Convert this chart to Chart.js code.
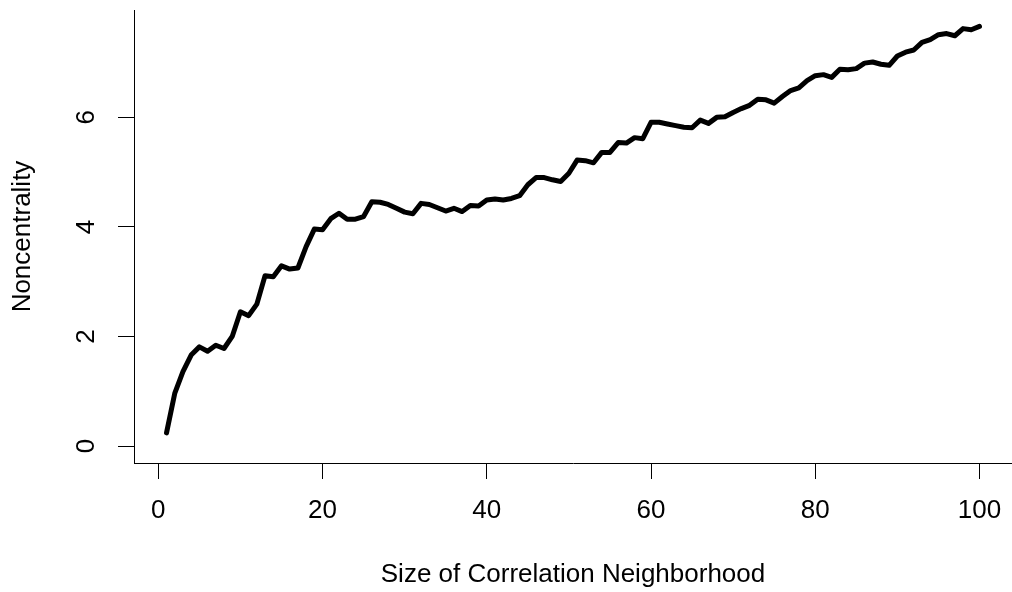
<!DOCTYPE html>
<html>
<head>
<meta charset="utf-8">
<script src="https://cdn.jsdelivr.net/npm/chart.js@4"></script>
<style>
  html, body { margin: 0; padding: 0; background: #fff; }
  #wrap { width: 1012px; height: 592px; }
</style>
</head>
<body>
<div id="wrap"><canvas id="lineChart" width="1012" height="592"></canvas></div>
<script>
// neighborhood sizes (x) and noncentrality (y)
var sizes = [1, 2, 3, 4, 5, 6, 7, 8, 9, 10,
    11, 12, 13, 14, 15, 16, 17, 18, 19, 20,
    21, 22, 23, 24, 25, 26, 27, 28, 29, 30,
    31, 32, 33, 34, 35, 36, 37, 38, 39, 40,
    41, 42, 43, 44, 45, 46, 47, 48, 49, 50,
    51, 52, 53, 54, 55, 56, 57, 58, 59, 60,
    61, 62, 63, 64, 65, 66, 67, 68, 69, 70,
    71, 72, 73, 74, 75, 76, 77, 78, 79, 80,
    81, 82, 83, 84, 85, 86, 87, 88, 89, 90,
    91, 92, 93, 94, 95, 96, 97, 98, 99, 100];
var noncentrality = [0.24, 0.96, 1.36, 1.66, 1.81, 1.73, 1.84, 1.78, 2.00, 2.45,
    2.38, 2.59, 3.11, 3.09, 3.29, 3.23, 3.25, 3.64, 3.96, 3.95,
    4.15, 4.25, 4.14, 4.14, 4.19, 4.46, 4.45, 4.41, 4.34, 4.27,
    4.24, 4.43, 4.41, 4.35, 4.29, 4.34, 4.28, 4.39, 4.38, 4.49,
    4.51, 4.49, 4.52, 4.57, 4.77, 4.90, 4.90, 4.86, 4.83, 4.98,
    5.22, 5.21, 5.17, 5.36, 5.36, 5.54, 5.53, 5.63, 5.61, 5.91,
    5.91, 5.88, 5.85, 5.82, 5.81, 5.95, 5.89, 6.00, 6.01, 6.09,
    6.16, 6.22, 6.33, 6.32, 6.26, 6.38, 6.49, 6.54, 6.67, 6.76,
    6.78, 6.73, 6.88, 6.87, 6.89, 6.99, 7.01, 6.97, 6.95, 7.12,
    7.19, 7.23, 7.37, 7.42, 7.51, 7.53, 7.49, 7.62, 7.60, 7.66];
var xTicks = [0, 20, 40, 60, 80, 100];
var yTicks = [0, 2, 4, 6];

var points = sizes.map(function (s, i) { return {x: s, y: noncentrality[i]}; });
var font = {family: "'Liberation Sans', Arial, sans-serif", size: 26, lineHeight: 1.2};

// keep the plot box fixed, no extra room for overhanging labels
function noPad(scale) {
    scale.paddingTop = 0;
    scale.paddingBottom = 0;
    scale.paddingLeft = 0;
    scale.paddingRight = 0;
}

var ctx1 = document.getElementById('lineChart').getContext('2d');
var lineChart = new Chart(ctx1, {
    type: 'line',
    data: {
        datasets: [{
            data: points,
            borderColor: '#000',
            borderWidth: 5,
            borderCapStyle: 'round',
            borderJoinStyle: 'round',
            pointRadius: 0,
            fill: false,
            tension: 0
        }]
    },
    options: {
        responsive: false,
        animation: false,
        events: [],
        layout: { padding: { top: 10, left: 0, right: 0, bottom: 0 } },
        plugins: {
            legend: { display: false },
            tooltip: { enabled: false }
        },
        scales: {
            x: {
                type: 'linear',
                min: -2.96,
                max: 103.96,
                afterBuildTicks: function (scale) {
                    scale.ticks = xTicks.map(function (v) { return {value: v}; });
                },
                afterFit: function (scale) { scale.height = 129; noPad(scale); },
                border: { display: true, color: '#000', width: 1 },
                grid: { drawOnChartArea: false, drawTicks: true, tickLength: 16, color: '#000', lineWidth: 1 },
                ticks: { color: '#000', font: font, padding: 16, autoSkip: false, maxRotation: 0 },
                title: {
                    display: true,
                    text: 'Size of Correlation Neighborhood',
                    color: '#000',
                    font: font,
                    padding: { top: 0, bottom: 2 }
                }
            },
            y: {
                type: 'linear',
                min: -0.31,
                max: 7.96,
                afterBuildTicks: function (scale) {
                    scale.ticks = yTicks.map(function (v) { return {value: v}; });
                },
                afterFit: function (scale) { scale.width = 134; noPad(scale); },
                border: { display: true, color: '#000', width: 1 },
                grid: { drawOnChartArea: false, drawTicks: true, tickLength: 16, color: '#000', lineWidth: 1 },
                ticks: {
                    color: '#000',
                    font: font,
                    padding: 24,
                    autoSkip: false,
                    minRotation: 90,
                    maxRotation: 90,
                    crossAlign: 'center'
                },
                title: {
                    display: true,
                    text: 'Noncentrality',
                    color: '#000',
                    font: font,
                    padding: { top: 7, bottom: 0 }
                }
            }
        }
    }
});
</script>
</body>
</html>
